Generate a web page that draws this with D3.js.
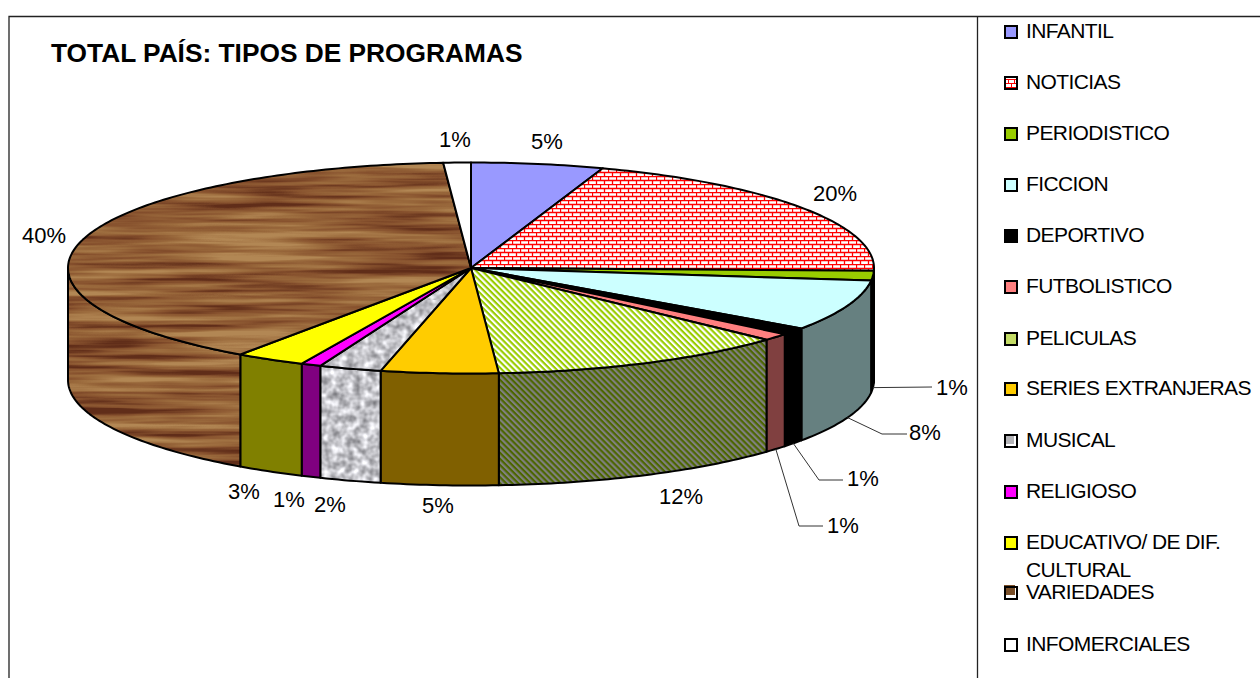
<!DOCTYPE html>
<meta charset="utf-8">
<style>
body { margin: 0; background: #fff; }
svg { display: block; }
text { font-family: "Liberation Sans", Arial, sans-serif; fill: #000; }
.lbl { font-size: 22px; text-anchor: middle; }
.leg { font-size: 21px; letter-spacing: -0.6px; }
.edge { stroke: #000; stroke-width: 2px; stroke-linejoin: round; }
.leader { fill: none; stroke: #333; stroke-width: 1px; }
</style>
<body>
<script src="https://d3js.org/d3.v7.min.js"></script>
<script>

// program types, in pie order
var categories = ["INFANTIL", "NOTICIAS", "PERIODISTICO", "FICCION", "DEPORTIVO", "FUTBOLISTICO",
  "PELICULAS", "SERIES EXTRANJERAS", "MUSICAL", "RELIGIOSO", "EDUCATIVO/ DE DIF. CULTURAL",
  "VARIEDADES", "INFOMERCIALES"];
// slice sizes
var shares = [5.3, 20.1, 1.5, 7.8, 1.1, 1.1, 12.0, 4.7, 2.5, 0.8, 2.8, 39.2, 1.1];
// the percentages printed on the chart
var printed = ["5%", "20%", "1%", "8%", "1%", "1%", "12%", "5%", "2%", "1%", "3%", "40%", "1%"];

var topFills = ["#9999ff", "url(#brick)", "#99cc00", "#ccffff", "#000000", "#ff8080",
  "url(#stripe)", "#ffcc00", "url(#granite)", "#ff00ff", "#ffff00", "url(#wood)", "#ffffff"];
var sideFills = ["#4c4c80", "#800000", "#000000", "#668080", "#000000", "#804040",
  "url(#stripeDark)", "#806000", "url(#granite)", "#800080", "#808000", "url(#wood)", "#808080"];

// label positions, and the elbow for those that have a leader line
var labelPos = [[547, 149], [835, 201], [952, 395], [925, 440], [863, 486], [843, 533],
  [681, 504], [438, 513], [330, 512], [289, 507], [244, 499], [44, 243], [455, 147]];
var leaders = {2: [[932, 387]], 3: [[882, 434], [907, 434]], 4: [[819, 480], [843, 480]], 5: [[799, 526], [823, 526]]};
var legendY = [32, 83, 134, 185, 236, 287, 339, 389, 441, 492, 543, 593, 645];

var cx = 471, cy = 268, rx = 403, ry = 105.5, depth = 112;

var svg = d3.select("body").append("svg").attr("width", 1260).attr("height", 678);
var defs = svg.append("defs");

// brick hatch
var brick = defs.append("pattern").attr("id", "brick").attr("patternUnits", "userSpaceOnUse")
    .attr("width", 8).attr("height", 8);
brick.append("rect").attr("width", 8).attr("height", 8).attr("fill", "#fff");
brick.append("path").attr("fill", "none").attr("stroke", "#ff0000").attr("stroke-width", 1.3)
    .attr("d", "M0,0.5H8M0,4.5H8M0.5,0V4M4.5,4V8");

function stripes(id, bg, fg) {
  var p = defs.append("pattern").attr("id", id).attr("patternUnits", "userSpaceOnUse")
      .attr("width", 4.3).attr("height", 4.3).attr("patternTransform", "rotate(45)");
  p.append("rect").attr("width", 4.3).attr("height", 4.3).attr("fill", bg);
  p.append("rect").attr("width", 4.3).attr("height", 2.15).attr("fill", fg);
}
stripes("stripe", "#fff", "#99cc00");
stripes("stripeDark", "#808080", "#4c6600");

// wood and stone textures come from turbulence
var wf = defs.append("filter").attr("id", "woodF").attr("x", 0).attr("y", 0).attr("width", 1).attr("height", 1)
    .attr("color-interpolation-filters", "sRGB");
wf.append("feTurbulence").attr("type", "fractalNoise").attr("baseFrequency", "0.006 0.13")
    .attr("numOctaves", 3).attr("seed", 11);
wf.append("feColorMatrix").attr("type", "matrix")
    .attr("values", "2 0 0 0 -0.5  2 0 0 0 -0.5  2 0 0 0 -0.5  0 0 0 0 1");
var wt = wf.append("feComponentTransfer");
wt.append("feFuncR").attr("type", "table").attr("tableValues", "0.38 0.53 0.61 0.7");
wt.append("feFuncG").attr("type", "table").attr("tableValues", "0.18 0.32 0.42 0.53");
wt.append("feFuncB").attr("type", "table").attr("tableValues", "0.1 0.18 0.24 0.33");
defs.append("pattern").attr("id", "wood").attr("patternUnits", "userSpaceOnUse")
    .attr("width", 1000).attr("height", 500)
  .append("rect").attr("width", 1000).attr("height", 500).attr("filter", "url(#woodF)");

var gf = defs.append("filter").attr("id", "graniteF").attr("x", 0).attr("y", 0).attr("width", 1).attr("height", 1)
    .attr("color-interpolation-filters", "sRGB");
gf.append("feTurbulence").attr("type", "fractalNoise").attr("baseFrequency", "0.13")
    .attr("numOctaves", 2).attr("seed", 3);
gf.append("feColorMatrix").attr("type", "matrix")
    .attr("values", "0.8 0 0 0 0.37  0.8 0 0 0 0.37  0.8 0 0 0 0.39  0 0 0 0 1");
defs.append("pattern").attr("id", "granite").attr("patternUnits", "userSpaceOnUse")
    .attr("width", 300).attr("height", 300)
  .append("rect").attr("width", 300).attr("height", 300).attr("filter", "url(#graniteF)");

// small brick for the legend key
var brickKey = defs.append("pattern").attr("id", "brickKey").attr("patternUnits", "userSpaceOnUse")
    .attr("width", 12).attr("height", 12).attr("x", 0).attr("y", -6);
brickKey.append("rect").attr("width", 12).attr("height", 12).attr("fill", "#fff");
brickKey.append("path").attr("fill", "none").attr("stroke", "#ff0000").attr("stroke-width", 1)
    .attr("d", "M0,2.5H12M0,6.5H12M0,10.5H12M3.5,2.5V6.5M9.5,2.5V6.5M6.5,6.5V10.5");

// frame
svg.append("path").attr("fill", "none").attr("stroke", "#222").attr("stroke-width", 1.3)
    .attr("d", "M9,678V16.5H1260M977.5,16.5V678");

svg.append("text").attr("x", 51).attr("y", 62)
    .style("font-size", "26.3px").style("font-weight", "bold")
    .text("TOTAL PAÍS: TIPOS DE PROGRAMAS");

// pie layout, angles measured clockwise from the top
var arcs = d3.pie().sort(null).value(function(d) { return d; })(shares);

function rim(a, dy) {
  return [cx + rx * Math.sin(a), cy - ry * Math.cos(a) + (dy || 0)];
}
function arcPoints(a0, a1, dy) {
  var n = Math.max(2, Math.ceil((a1 - a0) * 60));
  return d3.range(n + 1).map(function(i) { return rim(a0 + (a1 - a0) * i / n, dy); });
}
var line = d3.line();

// outer wall, only the front half of the rim shows
var wallArcs = arcs.filter(function(d) {
  return d.endAngle > Math.PI / 2 && d.startAngle < 3 * Math.PI / 2;
});
svg.append("g").selectAll("path").data(wallArcs).join("path")
    .attr("class", "edge")
    .attr("fill", function(d) { return sideFills[d.index]; })
    .attr("d", function(d) {
      var a0 = Math.max(d.startAngle, Math.PI / 2), a1 = Math.min(d.endAngle, 3 * Math.PI / 2);
      return line(arcPoints(a0, a1).concat(arcPoints(a0, a1, depth).reverse())) + "Z";
    });

// top face
svg.append("g").selectAll("path").data(arcs).join("path")
    .attr("class", "edge")
    .attr("fill", function(d) { return topFills[d.index]; })
    .attr("d", function(d) {
      return line([[cx, cy]].concat(arcPoints(d.startAngle, d.endAngle))) + "Z";
    });

// leader lines start on the lower rim at the middle of the slice
svg.append("g").selectAll("path").data(arcs.filter(function(d) { return leaders[d.index]; })).join("path")
    .attr("class", "leader")
    .attr("d", function(d) {
      var mid = (d.startAngle + d.endAngle) / 2;
      return line([rim(mid, depth)].concat(leaders[d.index]));
    });

svg.append("g").selectAll("text").data(printed).join("text")
    .attr("class", "lbl")
    .attr("x", function(d, i) { return labelPos[i][0]; })
    .attr("y", function(d, i) { return labelPos[i][1]; })
    .text(function(d) { return d; });

// legend
var legend = svg.append("g").selectAll("g").data(categories).join("g")
    .attr("transform", function(d, i) { return "translate(1005," + legendY[i] + ")"; });
legend.append("rect")
    .attr("x", function(d, i) { return i == 8 || i == 11 ? -1 : 0; })
    .attr("y", function(d, i) { return i == 8 ? -7 : i == 11 ? -8 : -6; })
    .attr("width", function(d, i) { return i == 8 ? 10 : i == 11 ? 11 : 12; })
    .attr("height", function(d, i) { return i == 8 ? 10 : i == 11 ? 10 : 12; })
    .attr("fill", function(d, i) {
      return i == 11 ? "#7a4f28" : i == 8 ? "#b4b4b8" : i == 1 ? "url(#brickKey)" : i == 6 ? "#c4dc66" : topFills[i];
    });
legend.append("rect")
    .attr("x", 0).attr("y", -6).attr("width", 12).attr("height", 12)
    .attr("fill", "none").attr("stroke", "#000").attr("stroke-width", 2);
legend.append("text").attr("class", "leg").attr("x", 21).attr("y", 6)
    .text(function(d) { return d == "EDUCATIVO/ DE DIF. CULTURAL" ? "EDUCATIVO/ DE DIF." : d; })
  .filter(function(d) { return d == "EDUCATIVO/ DE DIF. CULTURAL"; })
  .each(function() {
    d3.select(this.parentNode).append("text").attr("class", "leg").attr("x", 21).attr("y", 34).text("CULTURAL");
  });

</script>
</body>
